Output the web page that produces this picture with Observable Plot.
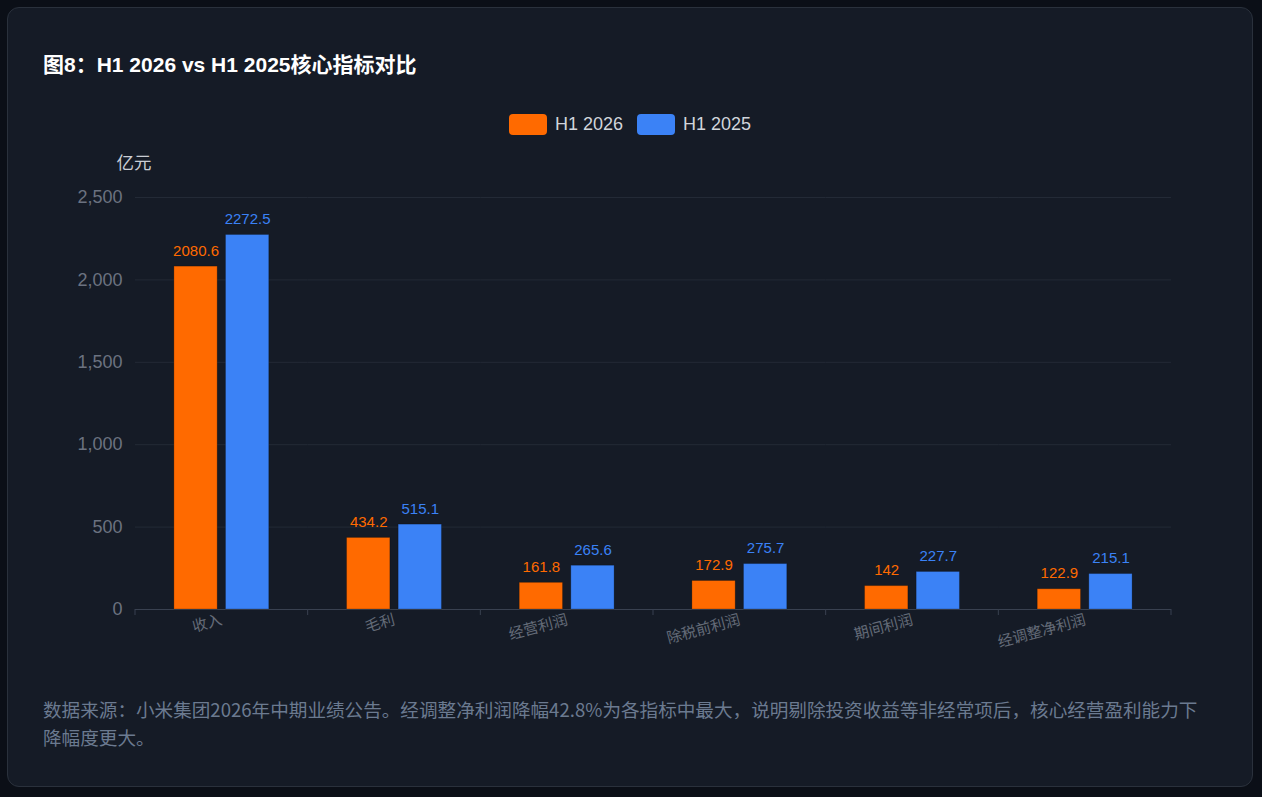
<!DOCTYPE html>
<html>
<head>
<meta charset="utf-8">
<script src="https://cdn.jsdelivr.net/npm/d3@7"></script>
<script src="https://cdn.jsdelivr.net/npm/@observablehq/plot@0.6"></script>
<style>
  html, body { margin: 0; padding: 0; background: #0b0f17; width: 1262px; height: 797px; overflow: hidden; }
  .card { position: absolute; left: 7px; top: 7px; width: 1246px; height: 780px; box-sizing: border-box;
          background: #151b26; border: 1px solid #2a313c; border-radius: 12px; }
  .title { position: absolute; left: 35px; top: 45px; font: bold 21px/24px "Liberation Sans", "Noto Sans CJK SC", sans-serif; color: #ffffff; white-space: nowrap; }
  .legend { position: absolute; left: 0; width: 100%; top: 105px; height: 22px; display: flex; justify-content: center; align-items: center;
            font: 18px "Liberation Sans", "Noto Sans CJK SC", sans-serif; color: #d1d5db; }
  .legend .item { display: flex; align-items: center; margin: 0 7px; }
  .legend .sw { width: 38px; height: 21px; border-radius: 4px; margin-right: 8px; }
  .chart { position: absolute; left: 0; top: 145px; width: 1244px; }
  .chart svg { max-width: none; }
  .caption { position: absolute; left: 35px; top: 687px; width: 1165px; font: 18.6px/28px "Noto Sans CJK SC", "Liberation Sans", sans-serif; color: #6b7a90; }
</style>
</head>
<body>
<div class="card">
  <div class="title">图8：H1 2026 vs H1 2025核心指标对比</div>
  <div class="legend" id="legend"></div>
  <div class="chart" id="chart"></div>
  <div class="caption">数据来源：小米集团2026年中期业绩公告。经调整净利润降幅42.8%为各指标中最大，说明剔除投资收益等非经常项后，核心经营盈利能力下降幅度更大。</div>
</div>
<script>
const categories = ["收入", "毛利", "经营利润", "除税前利润", "期间利润", "经调整净利润"];
const seriesNames = ["H1 2026", "H1 2025"];
const h1_2026 = [2080.6, 434.2, 161.8, 172.9, 142, 122.9];
const h1_2025 = [2272.5, 515.1, 265.6, 275.7, 227.7, 215.1];
const yTicks = [0, 500, 1000, 1500, 2000, 2500];
const seriesColors = ["#ff6a00", "#3b82f6"];
const yUnit = "亿元";

const data = categories.flatMap((c, i) => [
  {cat: c, series: seriesNames[0], value: h1_2026[i]},
  {cat: c, series: seriesNames[1], value: h1_2025[i]}
]);

// legend
const legend = document.getElementById("legend");
seriesNames.forEach((s, i) => {
  const item = document.createElement("div");
  item.className = "item";
  const sw = document.createElement("div");
  sw.className = "sw";
  sw.style.background = seriesColors[i];
  const t = document.createElement("span");
  t.textContent = s;
  item.appendChild(sw); item.appendChild(t);
  legend.appendChild(item);
});

const font = '"Liberation Sans", "Noto Sans CJK SC", sans-serif';
const chart = Plot.plot({
  width: 1244,
  height: 516,
  marginTop: 44,
  marginBottom: 60,
  marginLeft: 127,
  marginRight: 81,
  style: {background: "transparent", fontFamily: font, overflow: "visible"},
  fx: {domain: categories, padding: 0, round: false, label: null},
  x: {domain: seriesNames, paddingInner: 0.161, paddingOuter: 0.754, round: false, axis: null},
  y: {domain: [0, 2500], label: null},
  color: {domain: seriesNames, range: seriesColors},
  marks: [
    Plot.gridY(yTicks.slice(1), {stroke: "#232a36", strokeOpacity: 1, strokeWidth: 1}),
    Plot.axisY(yTicks, {tickSize: 0, tickPadding: 13, tickFormat: d3.format(","), fontSize: 18, fill: "#6b7280", label: null}),
    Plot.axisY([], {tickSize: 0, label: yUnit, labelAnchor: "top", labelArrow: "none", labelOffset: 19, fontSize: 17.5, fill: "#c9cdd4"}),
    Plot.axisFx({anchor: "bottom", tickRotate: -15, tickSize: 0, tickPadding: 10, fontSize: 15, fill: "#646b78", label: null}),
    Plot.ruleY([0], {stroke: "#394150", strokeWidth: 1}),
    Plot.barY(data, {fx: "cat", x: "series", y: "value", fill: "series", stroke: "#000", strokeOpacity: 0.22, strokeWidth: 1}),
    Plot.text(data, {fx: "cat", x: "series", y: "value", text: d => String(d.value), fill: "series", fontSize: 15, lineAnchor: "bottom", dy: -11})
  ]
});

// category boundary ticks on the x axis (echarts-style), positioned with Plot's own scales
const fxs = chart.scale("fx");
const ys = chart.scale("y");
const y0 = ys.apply(0);
const edges = categories.map(c => fxs.apply(c)).concat([fxs.apply(categories[categories.length - 1]) + fxs.bandwidth]);
const svg = d3.select(chart);
svg.append("g").selectAll("line").data(edges).join("line")
  .attr("x1", d => d).attr("x2", d => d)
  .attr("y1", y0).attr("y2", y0 + 6)
  .attr("stroke", "#394150").attr("stroke-width", 1);

document.getElementById("chart").appendChild(chart);
</script>
</body>
</html>
